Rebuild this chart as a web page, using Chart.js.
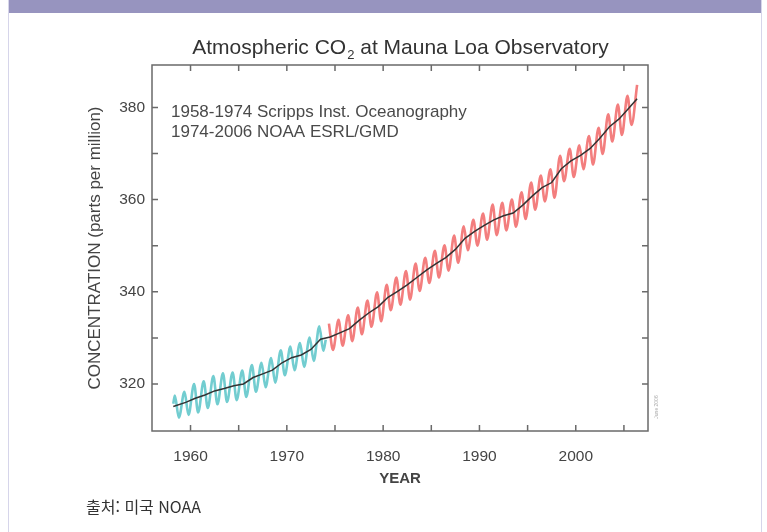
<!DOCTYPE html>
<html lang="ko">
<head>
<meta charset="utf-8">
<title>Atmospheric CO2 at Mauna Loa Observatory</title>
<script src="https://cdn.jsdelivr.net/npm/chart.js@4.4.1/dist/chart.umd.min.js"></script>
<style>
  html, body { margin: 0; padding: 0; background: #fff; }
  body { width: 767px; height: 532px; position: relative; overflow: hidden; }
  #card {
    position: absolute; left: 8px; top: 0; width: 752px; height: 532px;
    border-left: 1px solid #d6d5ea; border-right: 1px solid #d6d5ea;
  }
  #card .band { height: 13px; background: #9794bf; }
  #co2Chart { position: absolute; left: 0; top: 0; }
  .source {
    position: absolute; left: 86px; top: 494px;
    font: 16px "Noto Sans CJK KR", "Noto Sans", sans-serif; color: #333;
  }
</style>
</head>
<body>
<div id="card"><div class="band"></div></div>
<canvas id="co2Chart" width="767" height="532"></canvas>
<div class="source">출처: 미국 NOAA</div>

<script>
// monthly record, Mar 1958 - May 2006 (ppm)
const years = [1958, 1959, 1960, 1961, 1962, 1963, 1964, 1965, 1966, 1967,
  1968, 1969, 1970, 1971, 1972, 1973, 1974, 1975, 1976, 1977,
  1978, 1979, 1980, 1981, 1982, 1983, 1984, 1985, 1986, 1987,
  1988, 1989, 1990, 1991, 1992, 1993, 1994, 1995, 1996, 1997,
  1998, 1999, 2000, 2001, 2002, 2003, 2004, 2005, 2006];

// spring maximum (May) of each year
const mayPeak = [317.5, 318.3, 320.0, 320.6, 321.7, 322.3, 322.5, 322.9, 324.1, 324.6,
  325.6, 327.3, 328.1, 328.9, 330.1, 332.5, 333.1, 333.9, 334.9, 336.6,
  338.1, 339.9, 341.5, 343.1, 344.5, 346.1, 347.4, 348.9, 350.1, 352.2,
  354.2, 355.6, 357.0, 358.9, 359.3, 360.0, 361.6, 363.7, 365.2, 366.6,
  369.5, 371.0, 371.8, 373.8, 375.6, 378.5, 380.6, 382.5, 384.9];

// autumn minimum (Oct) of each year, 1958-2005
const octLow = [312.7, 313.3, 313.8, 314.8, 315.6, 316.1, 316.5, 317.2, 318.3, 319.3,
  320.3, 321.9, 323.0, 323.7, 325.0, 327.2, 327.4, 328.3, 329.3, 330.8,
  332.4, 333.6, 336.0, 337.2, 338.3, 340.2, 341.9, 343.1, 344.6, 346.3,
  349.0, 350.0, 351.3, 352.3, 353.3, 354.1, 355.8, 357.8, 359.6, 360.4,
  364.0, 364.9, 366.6, 367.6, 369.9, 372.6, 374.0, 376.2];

// annual means (black curve)
const annualMean = [315.1, 316.0, 316.9, 317.6, 318.5, 319.0, 319.6, 320.0, 321.4, 322.2,
  323.0, 324.6, 325.7, 326.3, 327.5, 329.7, 330.2, 331.1, 332.0, 333.8,
  335.4, 336.8, 338.8, 340.1, 341.5, 343.1, 344.7, 346.1, 347.4, 349.2,
  351.6, 353.1, 354.4, 355.6, 356.5, 357.1, 358.8, 360.8, 362.6, 363.7,
  366.7, 368.4, 369.6, 371.1, 373.3, 375.8, 377.5, 379.8, 381.9];

const firstMonth = { t: 1958.21, ppm: 315.7 };       // Mar 1958
const scrippsLastMonth = { t: 1974.04, ppm: 329.6 }; // Jan 1974
const lastMonth = 2006.37;                            // May 2006
const handover = 1974;                                // NOAA takes over

const MAY = 0.37, OCT = 0.79;

const yearTicks = [1960, 1970, 1980, 1990, 2000];
const yearMinor = [1960, 1965, 1970, 1975, 1980, 1985, 1990, 1995, 2000, 2005];
const ppmTicks = [320, 340, 360, 380];
const ppmMinor = [320, 330, 340, 350, 360, 370, 380];

// build the seasonal curve from the yearly extremes
const seasonal = [{ x: firstMonth.t, y: firstMonth.ppm }];
years.forEach((yr, i) => {
  seasonal.push({ x: yr + MAY, y: mayPeak[i] });
  if (i < octLow.length) seasonal.push({ x: yr + OCT, y: octLow[i] });
});
const scripps = seasonal.filter(p => p.x < handover);
scripps.push({ x: scrippsLastMonth.t, y: scrippsLastMonth.ppm });
const noaa = seasonal.filter(p => p.x > handover);

const trend = annualMean.map((v, i) => ({
  x: i === 0 ? firstMonth.t : (i === years.length - 1 ? lastMonth : years[i] + 0.5),
  y: v
}));

const FONT = '"Liberation Sans", Arial, sans-serif';

const frameTicks = {
  id: 'frameTicks',
  afterDatasetsDraw(chart) {
    const { ctx, chartArea: a, scales: { x, y } } = chart;
    ctx.save();
    ctx.strokeStyle = '#6a6a6a';
    ctx.lineWidth = 1.5;
    ctx.strokeRect(a.left, a.top, a.width, a.height);
    ctx.beginPath();
    yearMinor.forEach(v => {
      const px = x.getPixelForValue(v);
      ctx.moveTo(px, a.bottom); ctx.lineTo(px, a.bottom - 6);
      ctx.moveTo(px, a.top); ctx.lineTo(px, a.top + 6);
    });
    ppmMinor.forEach(v => {
      const py = y.getPixelForValue(v);
      ctx.moveTo(a.left, py); ctx.lineTo(a.left + 6, py);
      ctx.moveTo(a.right, py); ctx.lineTo(a.right - 6, py);
    });
    ctx.stroke();

    // title with subscript, centred over the frame
    const head = 'Atmospheric CO', sub = '2', tail = ' at Mauna Loa Observatory';
    ctx.fillStyle = '#333';
    ctx.textBaseline = 'alphabetic';
    ctx.font = '21px ' + FONT;
    const wHead = ctx.measureText(head).width, wTail = ctx.measureText(tail).width;
    ctx.font = '13px ' + FONT;
    const wSub = ctx.measureText(sub).width;
    let tx = (a.left + a.right) / 2 - (wHead + wSub + wTail) / 2;
    ctx.font = '21px ' + FONT;
    ctx.fillText(head, tx, 54);
    ctx.font = '13px ' + FONT;
    ctx.fillText(sub, tx + wHead + 1, 59);
    ctx.font = '21px ' + FONT;
    ctx.fillText(tail, tx + wHead + wSub + 1, 54);

    // data source note inside the frame
    ctx.fillStyle = '#4a4a4a';
    ctx.font = '17px ' + FONT;
    ctx.textBaseline = 'middle';
    ctx.fillText('1958-1974 Scripps Inst. Oceanography', a.left + 19, a.top + 47);
    ctx.fillText('1974-2006 NOAA ESRL/GMD', a.left + 19, a.top + 67);

    // tiny date stamp beside the frame
    ctx.translate(a.right + 9, a.bottom - 24);
    ctx.rotate(-Math.PI / 2);
    ctx.fillStyle = '#aaa';
    ctx.font = '5px ' + FONT;
    ctx.textAlign = 'center';
    ctx.fillText('June 2006', 0, 0);
    ctx.restore();
  }
};

const ctx = document.getElementById('co2Chart').getContext('2d');
new Chart(ctx, {
  type: 'line',
  data: {
    datasets: [
      {
        label: 'annual mean',
        data: trend,
        borderColor: '#333',
        borderWidth: 1.5,
        pointRadius: 0,
        tension: 0
      },
      {
        label: '1958-1974 Scripps Inst. Oceanography',
        data: scripps,
        borderColor: '#72cdd0',
        borderWidth: 2.6,
        pointRadius: 0,
        cubicInterpolationMode: 'monotone'
      },
      {
        label: '1974-2006 NOAA ESRL/GMD',
        data: noaa,
        borderColor: '#f37e7e',
        borderWidth: 2.6,
        pointRadius: 0,
        cubicInterpolationMode: 'monotone'
      }
    ]
  },
  options: {
    responsive: false,
    animation: false,
    layout: { padding: { left: 0, right: 119, top: 65, bottom: 0 } },
    plugins: {
      legend: { display: false },
      tooltip: { enabled: false },
      title: { display: false }
    },
    scales: {
      x: {
        type: 'linear',
        min: 1956,
        max: 2007.5,
        afterFit: s => { s.height = 101; },
        afterBuildTicks: s => { s.ticks = yearTicks.map(v => ({ value: v })); },
        grid: { display: false, drawTicks: false, tickLength: 0 },
        border: { display: false },
        ticks: {
          color: '#444',
          padding: 16,
          maxRotation: 0,
          font: { family: FONT, size: 15.5 },
          callback: v => String(v)
        },
        title: {
          display: true,
          text: 'YEAR',
          color: '#444',
          font: { family: FONT, size: 15, weight: 'bold' },
          padding: { top: 0, bottom: 44 }
        }
      },
      y: {
        min: 309.8,
        max: 389.2,
        afterFit: s => { s.width = 152; },
        afterBuildTicks: s => { s.ticks = ppmTicks.map(v => ({ value: v })); },
        grid: { display: false, drawTicks: false, tickLength: 0 },
        border: { display: false },
        ticks: {
          color: '#444',
          padding: 7,
          font: { family: FONT, size: 15.5 }
        },
        title: {
          display: true,
          text: 'CONCENTRATION (parts per million)',
          color: '#444',
          font: { family: FONT, size: 17 },
          padding: { top: 85, bottom: 0 }
        }
      }
    }
  },
  plugins: [frameTicks]
});
</script>
</body>
</html>
